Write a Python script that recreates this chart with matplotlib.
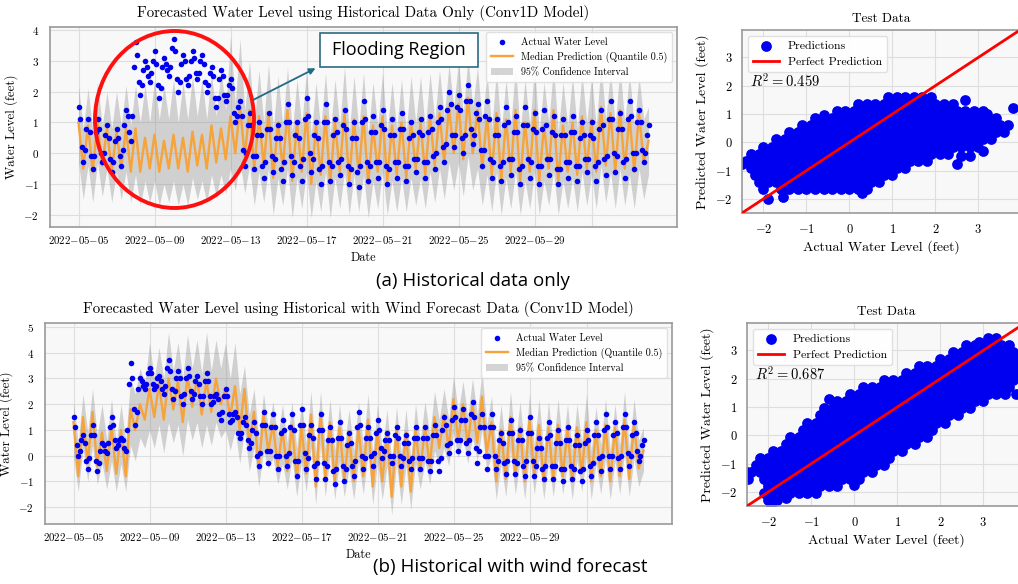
import numpy as np
import pandas as pd
import matplotlib
matplotlib.use("Agg")
import matplotlib.pyplot as plt
from matplotlib.patches import Ellipse, Rectangle, FancyArrowPatch

plt.rcParams.update({
    "font.family": "serif",
    "font.serif": ["cmr10"],
    "mathtext.fontset": "cm",
    "axes.formatter.use_mathtext": True,
})

# ---- time axis (model output read every 6 h, observations every 2 h)
t_line = pd.date_range("2022-05-05", periods=121, freq="6h")
t_obs = pd.date_range("2022-05-05", periods=361, freq="2h")

tick_days = ["2022-05-05", "2022-05-09", "2022-05-13", "2022-05-17",
             "2022-05-21", "2022-05-25", "2022-05-29", "2022-06-01"]
tick_text = tick_days[:-1] + [""]

# ---- (a) historical data only
top_actual = [
    1.5, 1.1, 0.2, -0.3, 0.1, 0.8, 1.1, 0.7, -0.1, -0.5, -0.1, 0.7, 1.1, 0.8, 0.0, -0.3, 0.0, 0.6,
    0.9, 0.5, -0.2, -0.6, -0.3, 0.4, 0.8, 0.5, -0.1, -0.4, 0.1, 0.9, 1.4, 1.2, 0.7, 0.4, 1.2, 2.8,
    3.6, 3.2, 2.3, 1.9, 2.2, 2.7, 3.0, 2.8, 2.5, 2.3, 2.6, 3.0, 3.3, 2.9, 2.2, 1.8, 2.1, 2.8,
    3.1, 2.9, 2.7, 2.5, 2.8, 3.4, 3.7, 3.3, 2.4, 2.0, 2.3, 2.9, 3.2, 3.0, 2.4, 2.2, 2.5, 3.0,
    3.3, 3.1, 2.6, 2.4, 2.6, 3.0, 3.2, 2.9, 2.3, 2.0, 2.2, 2.6, 2.8, 2.5, 1.8, 1.5, 1.8, 2.4,
    2.7, 2.5, 1.9, 1.7, 1.9, 2.2, 2.4, 2.1, 1.3, 1.0, 1.2, 1.5, 1.7, 1.2, 0.1, -0.4, 0.0, 0.9,
    1.3, 0.9, -0.1, -0.5, -0.1, 0.6, 1.0, 0.6, -0.4, -0.8, -0.3, 0.8, 1.3, 0.8, -0.1, -0.6, -0.2, 0.5,
    0.9, 0.5, -0.5, -0.9, -0.3, 1.0, 1.6, 1.0, -0.1, -0.7, -0.3, 0.6, 1.0, 0.5, -0.4, -0.9, -0.2, 1.1,
    1.8, 1.2, 0.0, -0.6, -0.2, 0.6, 1.0, 0.5, -0.5, -1.0, -0.4, 1.0, 1.6, 1.0, -0.3, -0.9, -0.4, 0.6,
    1.1, 0.7, -0.3, -0.7, -0.2, 0.9, 1.4, 0.8, -0.4, -1.0, -0.5, 0.5, 1.0, 0.5, -0.6, -1.1, -0.4, 1.0,
    1.7, 1.1, -0.3, -0.9, -0.4, 0.7, 1.2, 0.7, -0.3, -0.8, -0.3, 0.9, 1.4, 0.8, -0.4, -1.0, -0.5, 0.6,
    1.1, 0.6, -0.3, -0.8, -0.3, 0.8, 1.3, 0.8, -0.4, -0.9, -0.4, 0.5, 1.0, 0.6, -0.2, -0.6, -0.2, 0.7,
    1.1, 0.6, -0.3, -0.8, -0.3, 0.7, 1.2, 0.8, -0.1, -0.5, 0.0, 1.0, 1.5, 1.1, 0.2, -0.3, 0.3, 1.4,
    2.0, 1.6, 0.6, 0.2, 0.6, 1.5, 1.9, 1.4, 0.5, 0.0, 0.6, 1.7, 2.2, 1.7, 0.8, 0.3, 0.6, 1.3,
    1.6, 1.1, 0.1, -0.4, 0.1, 1.2, 1.7, 1.1, -0.2, -0.8, -0.3, 0.6, 1.1, 0.6, -0.4, -0.9, -0.3, 0.9,
    1.5, 1.0, -0.2, -0.7, -0.2, 0.7, 1.2, 0.7, -0.5, -1.0, -0.4, 0.9, 1.5, 0.9, -0.2, -0.8, -0.3, 0.8,
    1.3, 0.7, -0.4, -1.0, -0.4, 0.8, 1.4, 0.9, -0.2, -0.7, -0.2, 0.7, 1.2, 0.6, -0.5, -1.0, -0.5, 0.6,
    1.1, 0.6, -0.3, -0.8, -0.3, 0.7, 1.2, 0.7, -0.4, -0.9, -0.4, 0.5, 1.0, 0.6, -0.2, -0.6, -0.2, 0.6,
    1.0, 0.5, -0.4, -0.9, -0.3, 0.8, 1.4, 0.9, -0.2, -0.7, -0.1, 1.1, 1.7, 1.1, 0.0, -0.6, -0.1, 0.8,
    1.3, 0.8, -0.3, -0.8, -0.2, 1.1, 1.7, 1.2, 0.0, -0.5, 0.0, 1.0, 1.4, 1.0, 0.1, -0.3, 0.0, 0.6,
    0.9,
]
top_median = [
    1.0, -0.5, 0.9, -0.6, 1.0, -0.4, 0.8, -0.6, 0.7, -0.5, 0.8, -0.6, 0.8, -0.6, 0.5, -0.5, 0.6, -0.6, 0.4, -0.5,
    0.6, -0.5, 0.5, -0.6, 0.7, -0.4, 0.6, -0.5, 0.9, -0.3, 0.8, -0.2, 1.2, 0.0, 1.5, -0.1, 1.4, -0.5, 1.2, -0.4,
    1.3, -0.8, 1.0, -0.5, 1.4, -0.9, 1.0, -0.6, 1.3, -1.0, 0.9, -0.7, 1.2, -1.0, 1.0, -0.6, 1.3, -0.9, 1.1, -0.7,
    1.2, -1.0, 0.9, -0.6, 1.2, -0.9, 0.9, -0.7, 1.0, -0.8, 1.0, -0.5, 1.0, -0.7, 1.2, -0.4, 1.3, -0.3, 1.5, 0.0,
    1.6, -0.2, 1.8, 0.0, 1.4, -0.5, 1.2, -0.7, 1.3, -0.9, 1.1, -0.6, 1.4, -0.9, 1.0, -0.6, 1.4, -0.9, 0.9, -0.5,
    1.4, -0.9, 0.9, -0.6, 1.0, -0.7, 1.2, -0.5, 1.1, -0.6, 1.5, -0.4, 1.3, -0.6, 1.4, -0.5, 1.2, -0.6, 1.3, -0.3,
    0.4,
]
top_upper = [
    2.2, 0.8, 2.1, 0.7, 2.3, 0.9, 2.0, 0.8, 2.0, 0.9, 2.2, 0.9, 2.2, 1.0, 2.2, 1.0, 2.4, 1.1, 2.2, 1.1,
    2.4, 1.0, 2.3, 1.1, 2.5, 1.2, 2.4, 1.1, 2.6, 1.2, 2.7, 1.4, 3.8, 1.6, 3.7, 1.4, 3.0, 1.0, 2.7, 1.0,
    2.9, 0.8, 2.5, 0.9, 2.8, 0.7, 2.4, 0.9, 2.7, 0.6, 2.3, 0.8, 2.6, 0.6, 2.4, 0.9, 2.8, 0.7, 2.5, 0.8,
    2.6, 0.6, 2.3, 0.9, 2.6, 0.7, 2.3, 0.8, 2.4, 0.7, 2.5, 1.0, 2.5, 0.8, 2.6, 1.1, 2.7, 1.2, 2.9, 1.5,
    3.0, 1.3, 3.1, 1.5, 2.8, 1.0, 2.6, 0.8, 2.7, 0.7, 2.4, 0.9, 2.8, 0.7, 2.4, 0.9, 2.8, 0.7, 2.3, 1.0,
    2.8, 0.7, 2.3, 0.9, 2.5, 0.8, 2.6, 1.0, 2.5, 0.9, 2.9, 1.1, 2.7, 0.9, 2.8, 1.0, 2.6, 0.9, 2.5, 1.1,
    1.5,
]
top_lower = [
    -0.3, -1.5, -0.4, -1.6, -0.3, -1.4, -0.5, -1.6, -0.6, -1.5, -0.6, -1.6, -0.7, -1.7, -0.9, -1.6, -0.9, -1.7, -1.0, -1.6,
    -0.9, -1.7, -1.0, -1.7, -0.8, -1.5, -0.9, -1.6, -0.7, -1.4, -0.7, -1.3, -0.5, -1.2, -0.3, -1.3, -0.4, -1.7, -0.6, -1.6,
    -0.5, -2.0, -0.8, -1.7, -0.5, -2.1, -0.8, -1.8, -0.6, -2.1, -0.9, -1.9, -0.6, -2.1, -0.8, -1.8, -0.6, -2.0, -0.7, -1.9,
    -0.7, -2.1, -0.9, -1.8, -0.6, -2.0, -0.9, -1.9, -0.8, -1.9, -0.8, -1.7, -0.8, -1.8, -0.6, -1.6, -0.5, -1.5, -0.3, -1.2,
    -0.3, -1.4, -0.1, -1.2, -0.5, -1.7, -0.7, -1.9, -0.6, -2.0, -0.8, -1.8, -0.6, -2.0, -0.9, -1.8, -0.6, -2.0, -0.9, -1.7,
    -0.6, -2.0, -0.9, -1.8, -0.8, -1.9, -0.6, -1.7, -0.7, -1.8, -0.4, -1.6, -0.6, -1.8, -0.5, -1.7, -0.7, -1.8, -0.5, -1.5,
    -0.7,
]

# ---- (b) historical with wind forecast
bot_actual = [
    1.5, 1.1, 0.4, 0.0, 0.2, 0.6, 0.8, 0.5, -0.2, -0.5, -0.1, 0.8, 1.2, 0.8, -0.2, -0.6, -0.3, 0.2,
    0.5, 0.4, 0.2, 0.1, 0.5, 1.1, 1.5, 1.2, 0.6, 0.3, 0.4, 0.6, 0.7, 0.6, 0.3, 0.2, 1.0, 2.8,
    3.6, 3.0, 1.8, 1.2, 1.7, 2.6, 3.0, 2.9, 2.7, 2.6, 2.8, 3.2, 3.4, 3.2, 2.8, 2.6, 2.7, 3.0,
    3.1, 2.9, 2.6, 2.4, 2.7, 3.4, 3.7, 3.3, 2.6, 2.2, 2.5, 3.0, 3.3, 3.0, 2.3, 2.0, 2.4, 3.0,
    3.4, 3.1, 2.5, 2.2, 2.4, 2.9, 3.1, 2.8, 2.3, 2.0, 2.3, 2.9, 3.2, 2.9, 2.3, 2.0, 2.1, 2.3,
    2.4, 2.2, 1.6, 1.4, 1.7, 2.3, 2.6, 2.3, 1.6, 1.3, 1.4, 1.6, 1.7, 1.5, 0.9, 0.7, 0.9, 1.3,
    1.5, 1.2, 0.6, 0.3, 0.5, 1.0, 1.3, 0.9, 0.0, -0.4, 0.1, 1.2, 1.7, 1.2, 0.2, -0.3, 0.2, 1.1,
    1.6, 1.1, 0.0, -0.5, 0.0, 0.9, 1.4, 1.0, 0.0, -0.4, 0.1, 1.1, 1.6, 1.0, -0.2, -0.8, -0.2, 1.2,
    1.8, 1.2, 0.1, -0.5, -0.1, 0.8, 1.2, 0.7, -0.4, -0.9, -0.3, 1.0, 1.6, 1.0, -0.3, -0.9, -0.4, 0.6,
    1.1, 0.6, -0.6, -1.1, -0.5, 0.7, 1.3, 0.7, -0.4, -1.0, -0.5, 0.4, 0.9, 0.5, -0.4, -0.8, -0.2, 1.1,
    1.7, 1.2, 0.0, -0.5, -0.1, 0.7, 1.1, 0.7, 0.0, -0.4, 0.1, 0.9, 1.4, 1.0, 0.3, -0.1, 0.2, 0.6,
    0.9, 0.6, 0.0, -0.3, 0.0, 0.8, 1.1, 0.7, 0.0, -0.4, -0.1, 0.5, 0.8, 0.5, -0.2, -0.5, -0.1, 0.7,
    1.1, 0.7, -0.1, -0.5, -0.1, 0.7, 1.1, 0.7, -0.2, -0.6, -0.2, 0.8, 1.2, 0.8, -0.2, -0.6, -0.1, 1.0,
    1.5, 1.2, 0.4, 0.1, 0.5, 1.4, 1.9, 1.5, 0.6, 0.2, 0.6, 1.4, 1.8, 1.4, 0.5, 0.1, 0.6, 1.6,
    2.1, 1.5, 0.3, -0.3, 0.2, 1.1, 1.6, 1.1, 0.0, -0.5, 0.0, 1.1, 1.6, 1.1, 0.0, -0.5, -0.2, 0.6,
    0.9, 0.5, -0.3, -0.7, -0.2, 0.9, 1.4, 0.9, -0.2, -0.7, -0.3, 0.6, 1.0, 0.6, -0.4, -0.8, -0.2, 0.9,
    1.5, 0.9, -0.2, -0.8, -0.4, 0.3, 0.7, 0.3, -0.5, -0.9, -0.4, 0.7, 1.3, 0.8, -0.4, -0.9, -0.4, 0.5,
    1.0, 0.5, -0.5, -1.0, -0.5, 0.6, 1.1, 0.6, -0.4, -0.9, -0.5, 0.4, 0.8, 0.4, -0.6, -1.0, -0.5, 0.5,
    1.0, 0.6, -0.4, -0.8, -0.3, 0.8, 1.3, 0.8, -0.1, -0.6, 0.0, 1.0, 1.6, 1.1, 0.0, -0.5, 0.0, 0.8,
    1.3, 0.9, -0.1, -0.5, 0.0, 1.1, 1.6, 1.1, 0.1, -0.4, 0.0, 0.8, 1.3, 0.9, 0.2, -0.2, 0.0, 0.4,
    0.6,
]
bot_median = [
    1.3, -0.8, 1.5, -0.3, 1.7, -0.4, 0.9, -0.6, 1.1, -0.7, 1.0, -0.8, 1.8, 1.0, 2.0, 1.4, 2.6, 1.5, 2.8, 1.4,
    3.0, 1.8, 2.9, 1.3, 3.1, 1.9, 3.0, 1.6, 2.9, 1.7, 3.0, 2.0, 2.6, 1.5, 2.7, 1.0, 2.6, 0.4, 1.7, -0.5,
    1.6, 0.2, 1.2, -0.4, 1.0, -0.6, 1.2, -0.9, 1.1, -0.7, 1.6, -1.2, 1.7, -0.9, 1.3, -1.0, 1.1, -0.9, 0.8, -1.0,
    1.1, -0.8, 1.4, -1.2, 1.0, -1.0, 0.9, -1.6, 1.0, -1.2, 0.9, -1.4, 1.0, -0.6, 1.1, -0.4, 1.5, 0.3, 1.6, 0.3,
    2.2, 0.6, 2.0, 0.4, 2.0, 0.5, 2.3, 0.1, 1.3, -1.0, 1.0, -0.9, 1.5, -0.8, 1.1, -1.0, 1.4, -0.8, 1.2, -1.0,
    1.1, -0.9, 1.2, -0.8, 1.0, -1.0, 1.1, -0.7, 1.3, -1.0, 1.0, -0.8, 1.2, -1.0, 1.1, -0.8, 1.4, -0.9, 1.2, -0.5,
    0.2,
]
bot_upper = [
    2.1, 0.5, 2.4, 0.9, 2.6, 0.8, 2.0, 0.6, 2.2, 0.5, 2.0, 0.6, 3.0, 2.4, 3.4, 2.8, 4.4, 3.0, 4.2, 3.0,
    4.8, 3.3, 4.4, 3.0, 4.7, 3.4, 4.5, 3.2, 4.8, 3.3, 4.5, 3.4, 4.4, 3.0, 4.4, 2.4, 3.5, 1.6, 2.6, 0.7,
    2.4, 1.1, 2.1, 0.7, 2.0, 0.5, 2.1, 0.3, 2.1, 0.5, 2.5, 0.1, 2.5, 0.3, 2.2, 0.2, 2.0, 0.3, 1.8, 0.2,
    2.1, 0.4, 2.4, 0.1, 2.0, 0.2, 1.8, -0.2, 1.9, 0.1, 1.8, -0.1, 2.0, 0.6, 2.1, 0.8, 2.5, 1.4, 2.6, 1.4,
    3.1, 1.7, 2.9, 1.5, 3.0, 1.6, 3.3, 1.2, 2.3, 0.2, 2.0, 0.3, 2.5, 0.4, 2.1, 0.2, 2.4, 0.4, 2.2, 0.2,
    2.1, 0.3, 2.2, 0.4, 2.0, 0.2, 2.0, 0.5, 2.4, 0.2, 1.9, 0.4, 2.2, 0.2, 2.0, 0.4, 2.5, 0.3, 2.2, 0.6,
    1.1,
]
bot_lower = [
    0.0, -1.4, 0.3, -1.0, 0.4, -1.1, -0.3, -1.3, -0.2, -1.4, -0.3, -1.4, 0.4, -0.2, 0.7, 0.3, 1.0, 0.3, 1.2, 0.1,
    1.3, 0.5, 1.2, 0.0, 1.4, 0.6, 1.3, 0.3, 1.2, 0.4, 1.3, 0.7, 1.0, 0.2, 1.0, -0.3, 1.0, -0.6, 0.3, -1.2,
    0.2, -0.5, -0.1, -1.1, -0.3, -1.3, -0.1, -1.6, -0.2, -1.4, 0.3, -1.9, 0.4, -1.6, 0.0, -1.7, -0.2, -1.6, -0.5, -1.7,
    -0.2, -1.5, 0.1, -1.9, -0.3, -1.7, -0.4, -2.3, -0.3, -1.9, -0.4, -2.1, -0.3, -1.3, -0.2, -1.1, 0.2, -0.4, 0.3, -0.4,
    0.9, -0.1, 0.7, -0.3, 0.7, -0.2, 1.0, -0.6, 0.0, -1.7, -0.3, -1.6, 0.2, -1.5, -0.2, -1.7, 0.1, -1.5, -0.1, -1.7,
    -0.2, -1.6, -0.1, -1.5, -0.3, -1.7, -0.2, -1.4, 0.0, -1.7, -0.3, -1.5, -0.1, -1.7, -0.2, -1.5, 0.1, -1.6, -0.1, -1.2,
    -0.6,
]

# ---- test-set scatter, read row by row (predicted level, then actual values in that row)
top_sc_levels = [1.6, 1.35, 1.1, 0.85, 0.6, 0.35, 0.1, -0.15, -0.4, -0.65, -0.9, -1.15, -1.4, -1.65]
top_sc_rows = [
    [0.9, 1.1, 1.3, 1.5, 1.7, 1.9],
    [0.2, 0.4, 0.6, 0.8, 1.0, 1.2, 1.4, 1.6, 1.8, 2.0, 2.2, 2.4],
    [-0.3, -0.1, 0.1, 0.3, 0.5, 0.7, 0.9, 1.1, 1.3, 1.5, 1.7, 1.9, 2.1, 2.3, 2.5, 2.7, 2.9, 3.1],
    [-0.8, -0.6, -0.4, -0.2, 0.0, 0.2, 0.4, 0.6, 0.8, 1.0, 1.2, 1.4, 1.6, 1.8, 2.0, 2.2, 2.4, 2.6, 2.8, 3.0, 3.2, 3.4],
    [-1.1, -0.9, -0.7, -0.5, -0.3, -0.1, 0.1, 0.3, 0.5, 0.7, 0.9, 1.1, 1.3, 1.5, 1.7, 1.9, 2.1, 2.3, 2.5, 2.7, 2.9,
     3.1, 3.3, 3.5, 3.7],
    [-1.4, -1.2, -1.0, -0.8, -0.6, -0.4, -0.2, 0.0, 0.2, 0.4, 0.6, 0.8, 1.0, 1.2, 1.4, 1.6, 1.8, 2.0, 2.2, 2.4, 2.6,
     2.8, 3.0, 3.2, 3.4, 3.6],
    [-1.7, -1.5, -1.3, -1.1, -0.9, -0.7, -0.5, -0.3, -0.1, 0.1, 0.3, 0.5, 0.7, 0.9, 1.1, 1.3, 1.5, 1.7, 1.9, 2.1, 2.3,
     2.5, 2.7, 2.9, 3.1, 3.3],
    [-2.0, -1.8, -1.6, -1.4, -1.2, -1.0, -0.8, -0.6, -0.4, -0.2, 0.0, 0.2, 0.4, 0.6, 0.8, 1.0, 1.2, 1.4, 1.6, 1.8, 2.0,
     2.2, 2.4, 2.6, 2.8, 3.0],
    [-2.3, -2.1, -1.9, -1.7, -1.5, -1.3, -1.1, -0.9, -0.7, -0.5, -0.3, -0.1, 0.1, 0.3, 0.5, 0.7, 0.9, 1.1, 1.3, 1.5,
     1.7, 1.9, 2.1, 2.3],
    [-2.4, -2.2, -2.0, -1.8, -1.6, -1.4, -1.2, -1.0, -0.8, -0.6, -0.4, -0.2, 0.0, 0.2, 0.4, 0.6, 0.8, 1.0, 1.2, 1.4,
     1.6, 1.8],
    [-2.3, -2.1, -1.9, -1.7, -1.5, -1.3, -1.1, -0.9, -0.7, -0.5, -0.3, -0.1, 0.1, 0.3, 0.5, 0.7, 0.9, 1.1, 1.3],
    [-2.2, -2.0, -1.8, -1.6, -1.4, -1.2, -1.0, -0.8, -0.6, -0.4, -0.2, 0.0, 0.2, 0.4, 0.6, 0.8, 1.0],
    [-2.1, -1.9, -1.7, -1.5, -1.3, -1.1, -0.9, -0.7, -0.5, -0.3, -0.1, 0.1, 0.3, 0.5, 0.7],
    [-2.0, -1.6, -1.4, -1.2, -1.0, -0.8, -0.6, -0.4, -0.2, 0.0, 0.2, 0.4],
]
top_sc_extra_x = [2.7, 3.8, 2.5, 2.8, 3.1, -1.9, -1.55, -2.5, 0.3, 3.2, 2.6, -0.6]
top_sc_extra_y = [1.5, 1.2, -0.75, -0.5, -0.3, -2.0, -1.95, -0.75, -1.8, 1.0, -0.5, 0.95]

bot_sc_levels = [3.45, 3.2, 2.95, 2.7, 2.45, 2.2, 1.95, 1.7, 1.45, 1.2, 0.95, 0.7, 0.45, 0.2, -0.05, -0.3,
                 -0.55, -0.8, -1.05, -1.3, -1.55, -1.8, -2.05, -2.3]
bot_sc_rows = [
    [3.1, 3.3],
    [2.6, 2.8, 3.0, 3.2, 3.4, 3.6],
    [2.3, 2.5, 2.7, 2.9, 3.1, 3.3, 3.5, 3.7, 3.9],
    [2.0, 2.2, 2.4, 2.6, 2.8, 3.0, 3.2, 3.4, 3.6, 3.8],
    [1.5, 1.7, 1.9, 2.1, 2.3, 2.5, 2.7, 2.9, 3.1, 3.3, 3.5, 3.7],
    [1.2, 1.4, 1.6, 1.8, 2.0, 2.2, 2.4, 2.6, 2.8, 3.0, 3.2, 3.4, 3.6, 3.8],
    [0.7, 0.9, 1.1, 1.3, 1.5, 1.7, 1.9, 2.1, 2.3, 2.5, 2.7, 2.9, 3.1, 3.3, 3.5, 3.7],
    [0.2, 0.4, 0.6, 0.8, 1.0, 1.2, 1.4, 1.6, 1.8, 2.0, 2.2, 2.4, 2.6, 2.8, 3.0, 3.2, 3.4, 3.6],
    [-0.1, 0.1, 0.3, 0.5, 0.7, 0.9, 1.1, 1.3, 1.5, 1.7, 1.9, 2.1, 2.3, 2.5, 2.7, 2.9, 3.1, 3.3, 3.5],
    [-0.4, -0.2, 0.0, 0.2, 0.4, 0.6, 0.8, 1.0, 1.2, 1.4, 1.6, 1.8, 2.0, 2.2, 2.4, 2.6, 2.8, 3.0],
    [-0.7, -0.5, -0.3, -0.1, 0.1, 0.3, 0.5, 0.7, 0.9, 1.1, 1.3, 1.5, 1.7, 1.9, 2.1, 2.3, 2.5, 2.7],
    [-0.8, -0.6, -0.4, -0.2, 0.0, 0.2, 0.4, 0.6, 0.8, 1.0, 1.2, 1.4, 1.6, 1.8, 2.0, 2.2, 2.4],
    [-1.1, -0.9, -0.7, -0.5, -0.3, -0.1, 0.1, 0.3, 0.5, 0.7, 0.9, 1.1, 1.3, 1.5, 1.7, 1.9, 2.1],
    [-1.2, -1.0, -0.8, -0.6, -0.4, -0.2, 0.0, 0.2, 0.4, 0.6, 0.8, 1.0, 1.2, 1.4, 1.6, 1.8],
    [-1.5, -1.3, -1.1, -0.9, -0.7, -0.5, -0.3, -0.1, 0.1, 0.3, 0.5, 0.7, 0.9, 1.1, 1.3, 1.5, 1.7],
    [-1.6, -1.4, -1.2, -1.0, -0.8, -0.6, -0.4, -0.2, 0.0, 0.2, 0.4, 0.6, 0.8, 1.0, 1.2, 1.4],
    [-1.9, -1.7, -1.5, -1.3, -1.1, -0.9, -0.7, -0.5, -0.3, -0.1, 0.1, 0.3, 0.5, 0.7, 0.9, 1.1],
    [-2.2, -2.0, -1.8, -1.6, -1.4, -1.2, -1.0, -0.8, -0.6, -0.4, -0.2, 0.0, 0.2, 0.4, 0.6, 0.8],
    [-2.3, -2.1, -1.9, -1.7, -1.5, -1.3, -1.1, -0.9, -0.7, -0.5, -0.3, -0.1, 0.1, 0.3, 0.5, 0.7],
    [-2.4, -2.2, -2.0, -1.8, -1.6, -1.4, -1.2, -1.0, -0.8, -0.6, -0.4, -0.2, 0.0, 0.2, 0.4],
    [-2.1, -1.9, -1.7, -1.5, -1.3, -1.1, -0.9, -0.7, -0.5, -0.3, -0.1, 0.1],
    [-2.0, -1.8, -1.6, -1.4, -1.2, -1.0, -0.8, -0.6, -0.4],
    [-2.1, -1.9, -1.7, -1.5, -1.3, -1.1, -0.9],
    [-2.0, -1.8],
]
bot_sc_extra_x = [-2.5, -2.48, -1.95, -1.6, 0.0, 3.8, 3.75, -0.6, 2.9]
bot_sc_extra_y = [-1.3, -1.55, -2.45, -2.2, -1.75, 2.4, 1.45, 1.3, 3.3]

r2_top = 0.459
r2_bot = 0.687
sc_lims = (-2.5, 3.97)

BLUE = "#0000f0"
ORANGE = "#f5a33a"
SPINE = "#9a9a9a"
W, H = 1018, 584


def fx(px):
    return px / W


def fy(py):
    return 1 - py / H


def style_axes(ax):
    ax.set_facecolor("#f8f8f8")
    ax.grid(True, color="#dedede", lw=0.8)
    ax.set_axisbelow(True)
    for s in ax.spines.values():
        s.set_color(SPINE)
        s.set_linewidth(1.2)


def date_label(s):
    # minus signs as in the LaTeX-rendered original, without the wide operator spacing
    return r"$\mathdefault{" + s.replace("-", "{-}") + "}$" if s else ""


def draw_series(ax, actual, median, lower, upper, title):
    style_axes(ax)
    band = ax.fill_between(t_line, lower, upper, color="gray", alpha=0.33, lw=0, zorder=1)
    line, = ax.plot(t_line, median, color=ORANGE, lw=1.7, zorder=2, solid_joinstyle="round")
    dots = ax.scatter(t_obs, actual, s=16, color=BLUE, zorder=3, linewidths=0)
    ax.set_title(title, fontsize=10.8, pad=7)
    ax.set_ylabel("Water Level (feet)", fontsize=9.3)
    ax.set_xlabel("Date", fontsize=8.8, labelpad=4)
    ax.set_xticks(pd.to_datetime(tick_days))
    ax.set_xticklabels([date_label(s) for s in tick_text])
    ax.tick_params(axis="both", length=0, labelsize=8)
    ax.tick_params(axis="x", pad=5, labelsize=7.8)
    ax.tick_params(axis="y", pad=8)
    ax.legend([dots, line, band],
              ["Actual Water Level", "Median Prediction (Quantile 0.5)", "95% Confidence Interval"],
              loc="upper right", fontsize=7.2, frameon=True, facecolor="white",
              edgecolor="#dddddd", framealpha=0.9, handlelength=2.2, borderpad=0.5)


def draw_scatter(ax, levels, rows, extra_x, extra_y, r2):
    style_axes(ax)
    xs = np.concatenate([np.array(r, dtype=float) for r in rows] + [np.array(extra_x)])
    ys = np.concatenate([np.full(len(r), lv) for lv, r in zip(levels, rows)] + [np.array(extra_y)])
    pts = ax.scatter(xs, ys, s=60, color=BLUE, linewidths=0, zorder=2)
    ref, = ax.plot(sc_lims, sc_lims, color="red", lw=2, zorder=3)
    ax.set_xlim(sc_lims)
    ax.set_ylim(sc_lims)
    ax.set_title("Test Data", fontsize=9.5, pad=6)
    ax.set_xlabel("Actual Water Level (feet)", fontsize=10, labelpad=3)
    ax.set_ylabel("Predicted Water Level (feet)", fontsize=10, labelpad=4)
    ax.tick_params(axis="both", length=0, labelsize=9, pad=7)
    ax.legend([pts, ref], ["Predictions", "Perfect Prediction"], loc="upper left",
              fontsize=8.5, frameon=True, facecolor="white", edgecolor="#dddddd",
              framealpha=0.9, handlelength=2.2, borderpad=0.4)
    ax.text(0.03, 0.72, r"$R^2 = %.3f$" % r2, transform=ax.transAxes, fontsize=10.5,
            va="center", ha="left")


fig = plt.figure(figsize=(W / 100, H / 100), dpi=100)

ax1 = fig.add_axes([fx(50), fy(227), 627 / W, 200 / H])
ax2 = fig.add_axes([fx(742), fy(213), 278 / W, 183 / H])
ax3 = fig.add_axes([fx(45), fy(524), 627 / W, 201 / H])
ax4 = fig.add_axes([fx(747), fy(506), 278 / W, 183 / H])

draw_series(ax1, top_actual, top_median, top_lower, top_upper,
            "Forecasted Water Level using Historical Data Only (Conv1D Model)")
draw_series(ax3, bot_actual, bot_median, bot_lower, bot_upper,
            "Forecasted Water Level using Historical with Wind Forecast Data (Conv1D Model)")
draw_scatter(ax2, top_sc_levels, top_sc_rows, top_sc_extra_x, top_sc_extra_y, r2_top)
draw_scatter(ax4, bot_sc_levels, bot_sc_rows, bot_sc_extra_x, bot_sc_extra_y, r2_bot)

# captions
fig.text(fx(376), fy(281), "(a) Historical data only", fontsize=13.5,
         family="Open Sans", ha="left", va="center")
fig.text(fx(373), fy(567), "(b) Historical with wind forecast", fontsize=13.5,
         family="Open Sans", ha="left", va="center")

# flooding region call-out
fig.add_artist(Ellipse((fx(174.5), fy(119.5)), 159 / W, 177 / H, transform=fig.transFigure,
                       fill=False, edgecolor="#ff1010", lw=2.8, zorder=10))
fig.add_artist(Rectangle((fx(320), fy(67)), 158 / W, 34 / H, transform=fig.transFigure,
                         facecolor="white", edgecolor="#2d6a82", lw=1.2, zorder=10))
fig.text(fx(399), fy(50), "Flooding Region", fontsize=13, family="Open Sans",
         ha="center", va="center", zorder=11)
fig.add_artist(FancyArrowPatch((fx(251), fy(101)), (fx(318), fy(67)), transform=fig.transFigure,
                               arrowstyle="-|>", mutation_scale=9, color="#1f6b86", lw=1.3,
                               zorder=10))

fig.savefig("out.png", dpi=100)
